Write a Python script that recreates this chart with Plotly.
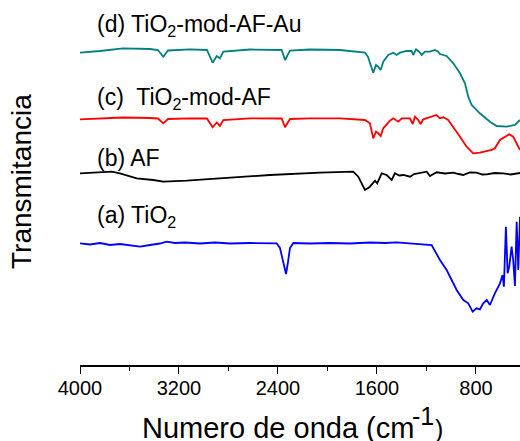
import plotly.graph_objects as go

# ---- data (wavenumber in cm^-1, transmittance in arbitrary offset units) ----
wn_d = [4000, 3838, 3653, 3434, 3370, 3327, 3289, 3111, 2974, 2928, 2895, 2869, 2842, 2626,
        2370, 2343, 2303, 2141, 1899, 1697, 1673, 1630, 1608, 1590, 1570, 1549, 1509, 1468,
        1441, 1414, 1360, 1320, 1307, 1285, 1258, 1239, 1212, 1172, 1131, 1105, 1091, 1037,
        983, 929, 889, 862, 835, 768, 687, 633, 552, 485, 444]
t_d = [3.123, 3.14, 3.167, 3.16, 3.15, 3.083, 3.145, 3.157, 3.15, 3.023, 3.09, 3.067, 3.133, 3.155,
       3.15, 3.05, 3.143, 3.155, 3.15, 3.123, 3.083, 2.923, 3.0, 2.983, 2.95, 3.033, 3.10, 3.123,
       3.10, 3.123, 3.14, 3.14, 3.10, 3.157, 3.133, 3.10, 3.133, 3.133, 3.15, 3.133, 3.11, 3.09,
       3.017, 2.917, 2.817, 2.683, 2.60, 2.517, 2.433, 2.39, 2.383, 2.40, 2.45]

wn_c = [4000, 3838, 3653, 3434, 3370, 3327, 3289, 3111, 2974, 2928, 2895, 2869, 2842, 2626,
        2370, 2343, 2303, 2141, 1899, 1697, 1657, 1630, 1608, 1590, 1570, 1549, 1495, 1468,
        1428, 1400, 1333, 1311, 1293, 1266, 1247, 1226, 1172, 1118, 1091, 1064, 1024, 983,
        929, 875, 822, 768, 673, 647, 606, 531, 499, 444]
t_c = [2.457, 2.463, 2.475, 2.47, 2.465, 2.417, 2.46, 2.467, 2.465, 2.377, 2.425, 2.39, 2.45, 2.467,
       2.465, 2.377, 2.46, 2.467, 2.467, 2.45, 2.417, 2.267, 2.333, 2.317, 2.29, 2.367, 2.443, 2.467,
       2.433, 2.467, 2.467, 2.41, 2.483, 2.45, 2.41, 2.457, 2.477, 2.50, 2.467, 2.477, 2.45, 2.383,
       2.283, 2.183, 2.117, 2.123, 2.15, 2.167, 2.25, 2.307, 2.283, 2.15]

wn_b = [4000, 3744, 3677, 3542, 3408, 3327, 3138, 2869, 2465, 2061, 1792, 1751, 1697, 1657,
        1616, 1598, 1562, 1522, 1481, 1455, 1420, 1387, 1333, 1300, 1266, 1198, 1172, 1118,
        1050, 983, 940, 903, 850, 794, 750, 713, 650, 580, 520, 444]
t_b = [1.917, 1.933, 1.917, 1.867, 1.85, 1.833, 1.843, 1.867, 1.90, 1.923, 1.933, 1.883, 1.75, 1.783,
       1.843, 1.817, 1.917, 1.90, 1.85, 1.917, 1.895, 1.90, 1.883, 1.91, 1.917, 1.933, 1.89, 1.927,
       1.915, 1.923, 1.91, 1.90, 1.925, 1.923, 1.905, 1.907, 1.92, 1.917, 1.905, 1.92]

wn_a = [4000, 3919, 3838, 3758, 3677, 3596, 3515, 3434, 3354, 3300, 3232, 3152, 3030, 2909,
        2788, 2626, 2505, 2411, 2384, 2360, 2335, 2319, 2303, 2276, 2141, 1980, 1818, 1657,
        1535, 1441, 1307, 1158, 1091, 1037, 956, 902, 862, 827, 794, 768, 741, 713, 687, 647,
        606, 585, 574, 558, 544, 531, 512, 499, 485, 471, 458, 444]
t_a = [1.217, 1.205, 1.22, 1.20, 1.21, 1.195, 1.183, 1.20, 1.215, 1.233, 1.22, 1.225, 1.215, 1.225,
       1.215, 1.22, 1.215, 1.217, 1.17, 1.03, 0.91, 1.03, 1.17, 1.22, 1.215, 1.22, 1.215, 1.225,
       1.22, 1.227, 1.217, 1.20, 1.05, 0.95, 0.75, 0.65, 0.617, 0.533, 0.567, 0.557, 0.617, 0.65,
       0.60, 0.717, 0.817, 0.90, 0.783, 1.383, 0.917, 0.983, 1.183, 1.05, 0.79, 1.433, 0.95, 1.483]

labels = ["(d) TiO<sub>2</sub>-mod-AF-Au", "(c)&nbsp; TiO<sub>2</sub>-mod-AF", "(b) AF", "(a) TiO<sub>2</sub>"]
label_y = [3.40, 2.67, 2.067, 1.483]
colors = ["#008080", "#ff0000", "#000000", "#0000ff"]
x_ticks = [4000, 3200, 2400, 1600, 800]
x_title_parts = ["Numero de onda (cm", "-1", ")"]

FONT = "Liberation Sans, Arial, sans-serif"

fig = go.Figure()
for wn, t, c in [(wn_d, t_d, colors[0]), (wn_c, t_c, colors[1]),
                 (wn_b, t_b, colors[2]), (wn_a, t_a, colors[3])]:
    fig.add_trace(go.Scatter(x=wn, y=t, mode="lines", line=dict(color=c, width=1.8),
                             showlegend=False, hoverinfo="skip"))

for txt, yy in zip(labels, label_y):
    fig.add_annotation(text=txt, xref="paper", yref="y", x=(95 - 80) / 440, y=yy,
                       xanchor="left", yanchor="middle", showarrow=False,
                       font=dict(family=FONT, size=23, color="#000"))

fig.add_annotation(text="Transmitancia", xref="paper", yref="paper",
                   x=(22 - 80) / 440, y=(365 - 182) / 365, textangle=-90,
                   xanchor="center", yanchor="middle", showarrow=False,
                   font=dict(family=FONT, size=28, color="#000"))

def px_x(px):
    return (px - 80) / 440

def px_y(py):
    return (365 - py) / 365

# x-axis title pieces: (text, left px, centre px, font size)
for txt, lx, cy, fs in zip(x_title_parts, [140, 410, 433], [427.5, 416, 428.5], [29, 25, 25]):
    fig.add_annotation(text=txt, xref="paper", yref="paper", x=px_x(lx), y=px_y(cy),
                       xanchor="left", yanchor="middle", showarrow=False,
                       font=dict(family=FONT, size=fs, color="#000"))

fig.update_xaxes(range=[4000, 444], tickvals=x_ticks, ticktext=[str(v) for v in x_ticks],
                 ticks="outside", ticklen=7, tickwidth=1.3, tickcolor="#000",
                 minor=dict(tickvals=[3600, 2800, 2000, 1200], ticks="outside", ticklen=4,
                            tickwidth=1.3, tickcolor="#000"),
                 showline=True, linecolor="#000", linewidth=1.5, showgrid=False, zeroline=False,
                 automargin=False, ticklabelstandoff=-3,
                 tickfont=dict(family=FONT, size=20, color="#000"))
fig.update_yaxes(range=[0, 3.65], visible=False)

fig.update_layout(width=520, height=441, margin=dict(l=80, r=0, t=0, b=76),
                  paper_bgcolor="white", plot_bgcolor="white")

fig.write_html("out.html", config={"displayModeBar": False},
               post_script="document.body.style.margin='0';document.body.style.overflow='hidden';")
